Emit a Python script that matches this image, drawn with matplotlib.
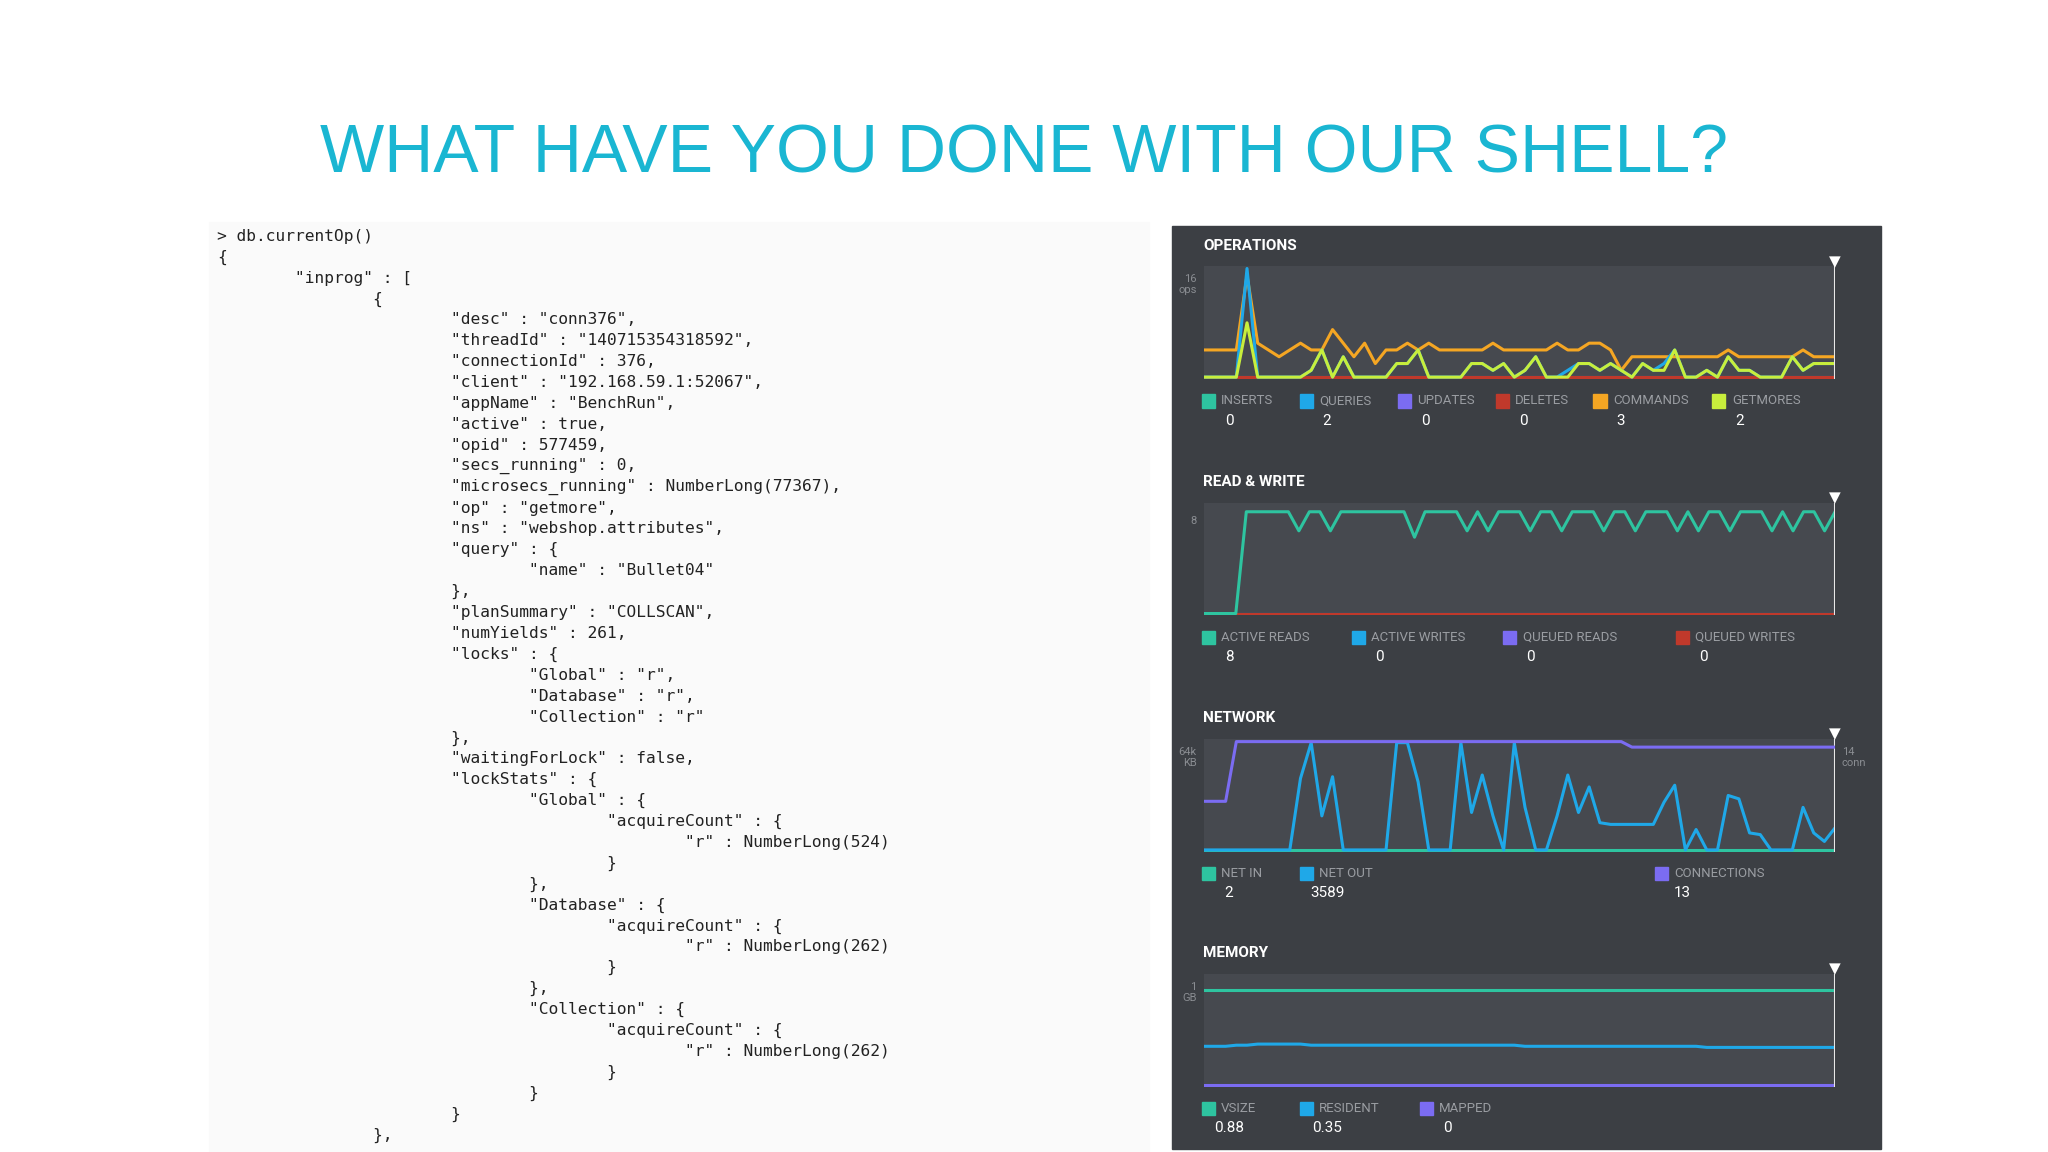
import matplotlib
matplotlib.use('Agg')
import matplotlib.pyplot as plt
from matplotlib.patches import Rectangle

# ---- data ----
code_lines = [
    '> db.currentOp()', '{', '\t"inprog" : [', '\t\t{',
    '\t\t\t"desc" : "conn376",',
    '\t\t\t"threadId" : "140715354318592",',
    '\t\t\t"connectionId" : 376,',
    '\t\t\t"client" : "192.168.59.1:52067",',
    '\t\t\t"appName" : "BenchRun",',
    '\t\t\t"active" : true,',
    '\t\t\t"opid" : 577459,',
    '\t\t\t"secs_running" : 0,',
    '\t\t\t"microsecs_running" : NumberLong(77367),',
    '\t\t\t"op" : "getmore",',
    '\t\t\t"ns" : "webshop.attributes",',
    '\t\t\t"query" : {',
    '\t\t\t\t"name" : "Bullet04"',
    '\t\t\t},',
    '\t\t\t"planSummary" : "COLLSCAN",',
    '\t\t\t"numYields" : 261,',
    '\t\t\t"locks" : {',
    '\t\t\t\t"Global" : "r",',
    '\t\t\t\t"Database" : "r",',
    '\t\t\t\t"Collection" : "r"',
    '\t\t\t},',
    '\t\t\t"waitingForLock" : false,',
    '\t\t\t"lockStats" : {',
    '\t\t\t\t"Global" : {',
    '\t\t\t\t\t"acquireCount" : {',
    '\t\t\t\t\t\t"r" : NumberLong(524)',
    '\t\t\t\t\t}',
    '\t\t\t\t},',
    '\t\t\t\t"Database" : {',
    '\t\t\t\t\t"acquireCount" : {',
    '\t\t\t\t\t\t"r" : NumberLong(262)',
    '\t\t\t\t\t}',
    '\t\t\t\t},',
    '\t\t\t\t"Collection" : {',
    '\t\t\t\t\t"acquireCount" : {',
    '\t\t\t\t\t\t"r" : NumberLong(262)',
    '\t\t\t\t\t}',
    '\t\t\t\t}',
    '\t\t\t}',
    '\t\t},',
]

ops_commands = [4, 4, 4, 4, 15, 5, 4, 3, 4, 5, 4, 4, 7, 5, 3, 5, 2, 4, 4, 5, 4, 5, 4, 4, 4, 4, 4, 5,
                4, 4, 4, 4, 4, 5, 4, 4, 5, 5, 4, 1, 3, 3, 3, 3, 3, 3, 3, 3, 3, 4, 3, 3, 3, 3, 3, 3, 4, 3, 3, 3]
ops_getmores = [0, 0, 0, 0, 8, 0, 0, 0, 0, 0, 1, 4, 0, 3, 0, 0, 0, 0, 2, 2, 4, 0, 0, 0, 0, 2, 2, 1,
                2, 0, 1, 3, 0, 0, 0, 2, 2, 1, 2, 1, 0, 2, 1, 1, 4, 0, 0, 1, 0, 3, 1, 1, 0, 0, 0, 3, 1, 2, 2, 2]
ops_queries = [0, 0, 0, 0, 16, 0, 0, 0, 0, 0, 1, 4, 0, 3, 0, 0, 0, 0, 2, 2, 4, 0, 0, 0, 0, 2, 2, 1,
               2, 0, 1, 3, 0, 0, 1, 2, 2, 1, 2, 1, 0, 2, 1, 2, 4, 0, 0, 1, 0, 3, 1, 1, 0, 0, 0, 3, 1, 2, 2, 2]
ops_zero = [0] * 60

rw_reads = [0, 0, 0, 0, 8, 8, 8, 8, 8, 6.5, 8, 8, 6.5, 8, 8, 8, 8, 8, 8, 8, 6, 8, 8, 8, 8, 6.5, 8,
            6.5, 8, 8, 8, 6.5, 8, 8, 6.5, 8, 8, 8, 6.5, 8, 8, 6.5, 8, 8, 8, 6.5, 8, 6.5, 8, 8, 6.5,
            8, 8, 8, 6.5, 8, 6.5, 8, 8, 6.5, 8]
rw_zero = [0] * 61

net_out = [0, 0, 0, 0, 0, 0, 0, 0, 0, 42, 63, 20, 43, 0, 0, 0, 0, 0, 63, 63, 40, 0, 0, 0, 63, 22, 44,
           20, 0, 63, 25, 0, 0, 20, 44, 22, 37, 16, 15, 15, 15, 15, 15, 28, 38, 0, 12, 0, 0, 32, 30,
           10, 9, 0, 0, 0, 25, 10, 5, 13]
net_in = [0] * 60
net_conn = [6.4, 6.4, 6.4, 14, 14, 14, 14, 14, 14, 14, 14, 14, 14, 14, 14, 14, 14, 14, 14, 14, 14,
            14, 14, 14, 14, 14, 14, 14, 14, 14, 14, 14, 14, 14, 14, 14, 14, 14, 14, 14, 13.3, 13.3,
            13.3, 13.3, 13.3, 13.3, 13.3, 13.3, 13.3, 13.3, 13.3, 13.3, 13.3, 13.3, 13.3, 13.3,
            13.3, 13.3, 13.3, 13.3]

mem_vsize = [0.86] * 60
mem_resident = [0.35, 0.35, 0.35, 0.36, 0.36, 0.37, 0.37, 0.37, 0.37, 0.37, 0.36, 0.36, 0.36, 0.36,
                0.36, 0.36, 0.36, 0.36, 0.36, 0.36, 0.36, 0.36, 0.36, 0.36, 0.36, 0.36, 0.36, 0.36,
                0.36, 0.36, 0.35, 0.35, 0.35, 0.35, 0.35, 0.35, 0.35, 0.35, 0.35, 0.35, 0.35, 0.35,
                0.35, 0.35, 0.35, 0.35, 0.35, 0.34, 0.34, 0.34, 0.34, 0.34, 0.34, 0.34, 0.34, 0.34,
                0.34, 0.34, 0.34, 0.34]
mem_mapped = [0] * 60

TEAL, BLUE, PURPLE, RED = '#2ec4a0', '#1fa8e8', '#7b6cf2', '#c0392b'
ORANGE, LIME = '#f5a623', '#c8ee3c'

W, H = 1568, 882  # reference layout units
fig = plt.figure(figsize=(20.48, 11.52), dpi=100)
fig.patch.set_facecolor('white')


def fx(x):
    return x / W


def fy(y):
    return 1 - y / H


fig.text(0.5, fy(118), 'WHAT HAVE YOU DONE WITH OUR SHELL?', ha='center', va='center',
         fontsize=49, color='#1ab6d2', family='Liberation Sans')

# code block
fig.patches.append(Rectangle((fx(160), fy(882)), fx(720), fy(170) - fy(882),
                             transform=fig.transFigure, color='#fafafa', zorder=0))
for i, line in enumerate(code_lines):
    fig.text(fx(166), fy(181 + 16 * i), line.expandtabs(8), ha='left', va='center',
             fontsize=11.7, family='DejaVu Sans Mono', color='#222222')

# dashboard panel
fig.patches.append(Rectangle((fx(897), fy(880)), fx(543), fy(173) - fy(880),
                             transform=fig.transFigure, color='#3c3f44', zorder=0))

UI = ['Roboto', 'DejaVu Sans']


def panel(top, title, series, ymax, legend, ylab, ylab2=None, twin=None):
    ax = fig.add_axes([fx(922), fy(top + 86), fx(483), fy(top) - fy(top + 86)])
    ax.set_zorder(3)
    ax.set_facecolor('#46494f')
    for v, c in series:
        ax.plot(range(len(v)), v, color=c, lw=2.2)
    n = len(series[0][0]) - 1
    ax.set_xlim(0, n)
    ax.set_ylim(-0.015 * ymax, ymax)
    ax.axvline(n, color='#e8e8e8', lw=1.5)
    ax.set_xticks([])
    ax.set_yticks([])
    for s in ax.spines.values():
        s.set_visible(False)
    if twin is not None:
        ax2 = ax.twinx()
        ax2.set_zorder(4)
        ax2.patch.set_visible(False)
        ax2.plot(range(len(twin[0])), twin[0], color=twin[1], lw=2.2)
        ax2.set_ylim(0, twin[2])
        ax2.set_xlim(0, n)
        ax2.set_yticks([])
        for s in ax2.spines.values():
            s.set_visible(False)
    fig.text(fx(921), fy(top - 16), title, fontsize=11, fontweight='bold', color='white',
             family=UI, va='center')
    fig.text(fx(1405), fy(top - 4), '▼', fontsize=11, color='white', ha='center', va='center',
             family='DejaVu Sans')
    fig.text(fx(916), fy(top + 14), ylab, fontsize=8, color='#8a8d92', ha='right', va='center',
             family=UI, linespacing=1.1)
    if ylab2:
        fig.text(fx(1410), fy(top + 14), ylab2, fontsize=8, color='#8a8d92', ha='left',
                 va='center', family=UI, linespacing=1.1)
    for x, name, val, c in legend:
        fig.patches.append(Rectangle((fx(x - 5), fy(top + 108)), fx(10), fy(0) - fy(10),
                                     transform=fig.transFigure, color=c))
        fig.text(fx(x + 10), fy(top + 103), name, fontsize=9.5, color='#9a9da2', va='center',
                 family=UI)
        fig.text(fx(x + 16), fy(top + 118), val, fontsize=11, color='white', ha='center',
                 va='center', family=UI)


panel(204, 'OPERATIONS',
      [(ops_zero, TEAL), (ops_zero, PURPLE), (ops_zero, RED), (ops_commands, ORANGE),
       (ops_queries, BLUE), (ops_getmores, LIME)],
      16.3,
      [(925, 'INSERTS', '0', TEAL), (1000, 'QUERIES', '2', BLUE), (1075, 'UPDATES', '0', PURPLE),
       (1150, 'DELETES', '0', RED), (1225, 'COMMANDS', '3', ORANGE),
       (1316, 'GETMORES', '2', LIME)],
      '16\nops')
panel(385, 'READ & WRITE',
      [(rw_zero, BLUE), (rw_zero, PURPLE), (rw_zero, RED), (rw_reads, TEAL)],
      8.7,
      [(925, 'ACTIVE READS', '8', TEAL), (1040, 'ACTIVE WRITES', '0', BLUE),
       (1156, 'QUEUED READS', '0', PURPLE), (1288, 'QUEUED WRITES', '0', RED)],
      '8')
panel(566, 'NETWORK',
      [(net_in, TEAL), (net_out, BLUE)],
      65,
      [(925, 'NET IN', '2', TEAL), (1000, 'NET OUT', '3589', BLUE),
       (1272, 'CONNECTIONS', '13', PURPLE)],
      '64k\nKB', '14\nconn', twin=(net_conn, PURPLE, 14.3))
panel(746, 'MEMORY',
      [(mem_vsize, TEAL), (mem_resident, BLUE), (mem_mapped, PURPLE)],
      1.0,
      [(925, 'VSIZE', '0.88', TEAL), (1000, 'RESIDENT', '0.35', BLUE),
       (1092, 'MAPPED', '0', PURPLE)],
      '1\nGB')

fig.savefig('out.png', dpi=100)
